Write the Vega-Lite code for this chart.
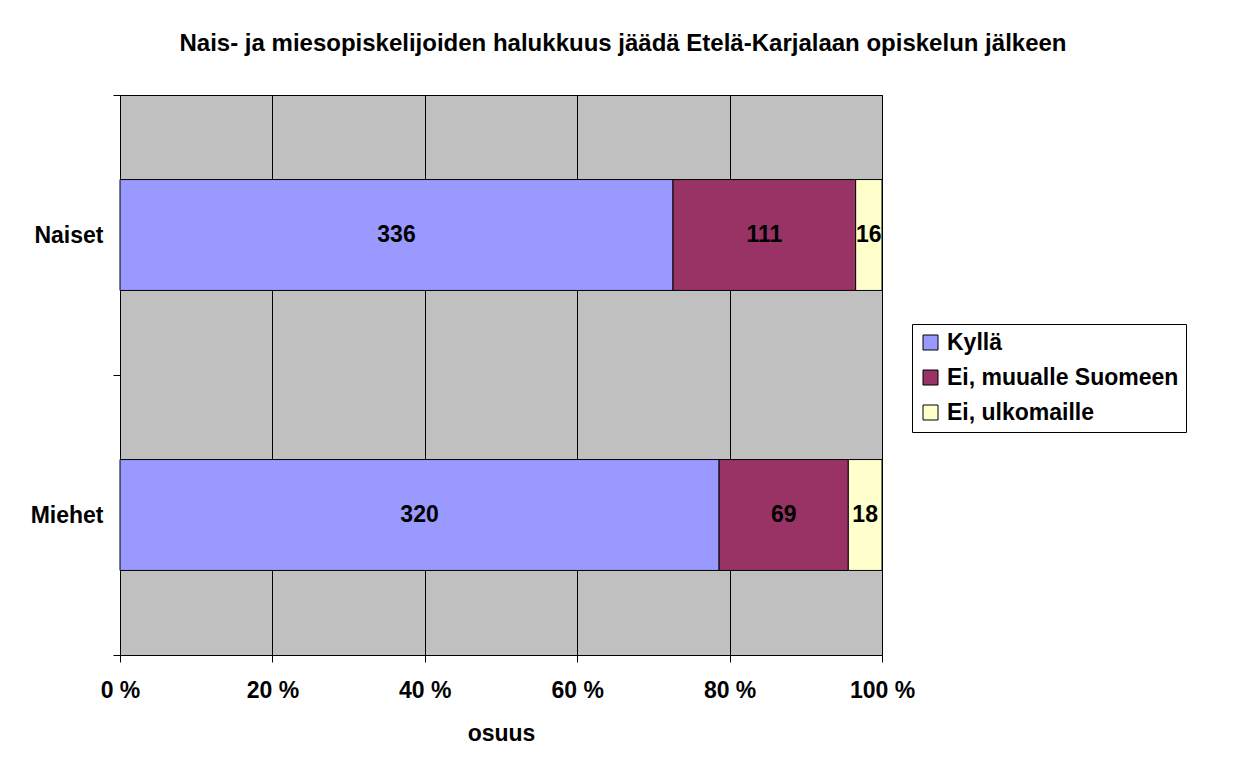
{
  "$schema": "https://vega.github.io/schema/vega-lite/v6.json",
  "width": 762,
  "height": 560,
  "autosize": "none",
  "padding": {"left": 120, "top": 95, "right": 361, "bottom": 107},
  "background": "white",
  "title": {
    "text": "Nais- ja miesopiskelijoiden halukkuus jäädä Etelä-Karjalaan opiskelun jälkeen",
    "font": "Liberation Sans",
    "fontSize": 24,
    "fontWeight": "bold",
    "color": "black",
    "anchor": "middle",
    "dx": 122,
    "offset": 28
  },
  "data": {
    "values": [
      {"ryhma": "Naiset", "vastaus": "Kyllä", "jarj": 1, "lkm": 336},
      {"ryhma": "Naiset", "vastaus": "Ei, muualle Suomeen", "jarj": 2, "lkm": 111},
      {"ryhma": "Naiset", "vastaus": "Ei, ulkomaille", "jarj": 3, "lkm": 16},
      {"ryhma": "Miehet", "vastaus": "Kyllä", "jarj": 1, "lkm": 320},
      {"ryhma": "Miehet", "vastaus": "Ei, muualle Suomeen", "jarj": 2, "lkm": 69},
      {"ryhma": "Miehet", "vastaus": "Ei, ulkomaille", "jarj": 3, "lkm": 18}
    ]
  },
  "encoding": {
    "y": {
      "field": "ryhma",
      "type": "nominal",
      "sort": ["Naiset", "Miehet"],
      "scale": {"paddingInner": 0, "paddingOuter": 0},
      "axis": {
        "title": null,
        "domain": false,
        "tickBand": "extent",
        "ticks": true,
        "tickSize": 7,
        "tickColor": "black",
        "labelFont": "Liberation Sans",
        "labelFontSize": 23,
        "labelFontWeight": "bold",
        "labelColor": "black",
        "labelPadding": 10,
        "grid": false
      }
    },
    "x": {
      "field": "lkm",
      "type": "quantitative",
      "stack": "normalize",
      "scale": {"domain": [0, 1], "nice": false},
      "axis": {
        "title": "osuus",
        "values": [0, 0.2, 0.4, 0.6, 0.8, 1],
        "labelExpr": "round(datum.value * 100) + ' %'",
        "labelFlush": false,
        "labelOverlap": false,
        "grid": true,
        "gridColor": "black",
        "gridWidth": 1,
        "gridOpacity": 1,
        "domain": true,
        "domainColor": "black",
        "tickColor": "black",
        "tickSize": 7,
        "labelFont": "Liberation Sans",
        "labelFontSize": 23,
        "labelFontWeight": "bold",
        "labelColor": "black",
        "labelPadding": 17,
        "titleFont": "Liberation Sans",
        "titleFontSize": 23,
        "titleFontWeight": "bold",
        "titleColor": "black",
        "titlePadding": 20
      }
    },
    "order": {"field": "jarj", "type": "quantitative"}
  },
  "layer": [
    {
      "mark": {"type": "bar", "stroke": "black", "strokeWidth": 1, "height": {"band": 0.396}},
      "encoding": {
        "color": {
          "field": "vastaus",
          "type": "nominal",
          "scale": {
            "domain": ["Kyllä", "Ei, muualle Suomeen", "Ei, ulkomaille"],
            "range": ["#9999FF", "#993366", "#FFFFCC"]
          },
          "legend": {
            "title": null,
            "orient": "none",
            "legendX": 792,
            "legendY": 229,
            "symbolType": "square",
            "symbolSize": 225,
            "symbolStrokeColor": "black",
            "symbolStrokeWidth": 1,
            "symbolOpacity": 1,
            "labelFont": "Liberation Sans",
            "labelFontSize": 23,
            "labelFontWeight": "bold",
            "labelColor": "black",
            "labelOffset": 5,
            "rowPadding": 11,
            "padding": 7,
            "strokeColor": "black",
            "fillColor": "white",
            "labelLimit": 400
          }
        }
      }
    },
    {
      "mark": {
        "type": "text",
        "font": "Liberation Sans",
        "fontSize": 23,
        "fontWeight": "bold",
        "color": "black",
        "align": "center",
        "baseline": "middle"
      },
      "encoding": {
        "x": {"field": "lkm", "type": "quantitative", "stack": "normalize", "bandPosition": 0.5},
        "text": {"field": "lkm", "type": "quantitative"}
      }
    }
  ],
  "config": {
    "view": {"fill": "#C0C0C0", "stroke": "black", "strokeWidth": 1}
  }
}
